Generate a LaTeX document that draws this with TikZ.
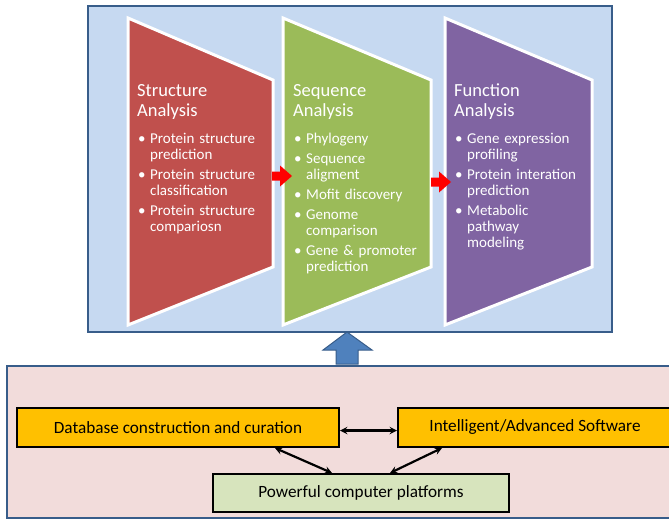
\documentclass[tikz,border=0pt]{standalone}
\usepackage{fontspec}
\setmainfont{Carlito}
\usetikzlibrary{positioning,calc}

\definecolor{frameblue}{HTML}{C6D9F1}
\definecolor{frameline}{HTML}{385D8A}
\definecolor{panelred}{HTML}{C0504D}
\definecolor{panelgreen}{HTML}{9BBB59}
\definecolor{panelpurple}{HTML}{8064A2}
\definecolor{basepink}{HTML}{F2DCDB}
\definecolor{toolyellow}{HTML}{FFC000}
\definecolor{hwgreen}{HTML}{D7E4BD}
\definecolor{liftblue}{HTML}{4F81BD}

% bullet with hanging indent for the panel lists
\newcommand{\bitem}[1]{\par\hangindent=13pt\hangafter=1\noindent\makebox[13pt][l]{\hspace{1pt}\textbullet}#1}
\newcommand{\panelhead}[1]{{\fontsize{18.5}{20}\selectfont #1\par}\vskip7pt}

\begin{document}
\begin{tikzpicture}[x=1pt,y=-1pt]

        \tikzset{
            framebox/.style={draw=frameline, line width=2.5pt},
            panel/.style={draw=white, line width=3pt, line join=miter},
            paneltext/.style={anchor=north west, inner sep=0pt, text width=135pt,
                align=left, text=white, font=\fontsize{15}{16}\selectfont,
                execute at begin node={\setlength{\parindent}{0pt}\setlength{\parskip}{4pt}}},
            toolbox/.style={draw=black, line width=2pt, minimum height=39pt,
                inner sep=0pt, font=\fontsize{17.2}{20}\selectfont}
        }

        \useasboundingbox (0,0) rectangle (669,519);
        \clip (0,0) rectangle (669,519);

        % upper frame and the three analysis panels
        \draw[framebox, fill=frameblue] (88,6) rectangle (612,332);
        \draw[panel, fill=panelred] (128,18) -- (273,80) -- (273,267) -- (128,325) -- cycle;
        \draw[panel, fill=panelgreen] (283,18) -- (431,80) -- (431,267) -- (283,325) -- cycle;
        \draw[panel, fill=panelpurple] (445,18) -- (592,80) -- (592,267) -- (445,325) -- cycle;

        % red block arrows between the panels
        \foreach \ax/\ay in {272/176, 431/182}
            \fill[red, shift={(\ax,\ay)}] (0,-4.5) -- (8,-4.5) -- (8,-10.5) -- (20,0)
                -- (8,10.5) -- (8,4.5) -- (0,4.5) -- cycle;

        % lift arrow and lower frame
        \draw[fill=liftblue, draw=frameline, line width=1pt]
            (347,332) -- (372,350) -- (358,350) -- (358,364)
            -- (336,364) -- (336,350) -- (323,350) -- cycle;
        \draw[framebox, fill=basepink] (7,366) rectangle (690,518);

        \begin{scope}
            \node[paneltext] (T1) at (137,84)
            {\panelhead{Structure\\Analysis}%
             \bitem{Protein structure\newline prediction}%
             \bitem{Protein structure\newline classification}%
             \bitem{Protein structure\newline compariosn}\par};
            \node[paneltext] (T2) at (293,84)
            {\panelhead{Sequence\\Analysis}%
             \bitem{Phylogeny}%
             \bitem{Sequence\newline aligment}%
             \bitem{Mofit discovery}%
             \bitem{Genome\newline comparison}%
             \bitem{Gene \& promoter\newline prediction}\par};
            \node[paneltext] (T3) at (454,84)
            {\panelhead{Function\\Analysis}%
             \bitem{Gene expression\newline profiling}%
             \bitem{Protein interation\newline prediction}%
             \bitem{Metabolic\newline pathway\newline modeling}\par};

            \node[toolbox, fill=toolyellow, minimum width=322pt] (DB) at (178,427.5)
            {Database construction and curation};
            \node[toolbox, fill=toolyellow, minimum width=274pt] (SW) at (535,427.5)
            {Intelligent/Advanced Software};
            \node[toolbox, fill=hwgreen, minimum width=296pt, minimum height=38pt] (HW) at (361,493)
            {Powerful computer platforms};
        \end{scope}

        \begin{scope}[line width=2.2pt, >=stealth]
            \draw[<->] ([yshift=-3pt]DB.east) -- ([yshift=-3pt]SW.west);
            \draw[<->] ([xshift=97pt]DB.south) -- ([xshift=-29pt]HW.north);
            \draw[<->] ([xshift=-93pt]SW.south) -- ([xshift=29pt]HW.north);
        \end{scope}

        \end{tikzpicture}
\end{document}
